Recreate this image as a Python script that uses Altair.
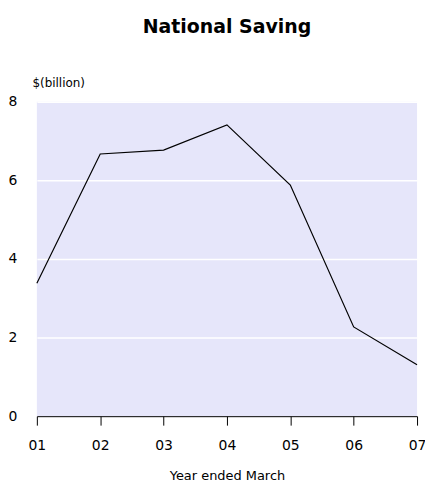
import altair as alt
import pandas as pd

years = [1, 2, 3, 4, 5, 6, 7]
saving = [3.38, 6.67, 6.77, 7.41, 5.88, 2.27, 1.31]

df = pd.DataFrame({"year": years, "saving": saving})

FONT = "DejaVu Sans"

line = alt.Chart(df).mark_line(color="black", strokeWidth=1.2).encode(
    x=alt.X(
        "year:Q",
        scale=alt.Scale(domain=[1, 7], nice=False, zero=False),
        axis=alt.Axis(
            values=years,
            labelExpr="'0' + datum.value",
            labelFlush=False,
            title="Year ended March",
            titleFont=FONT,
            titleFontSize=13,
            titleFontWeight="normal",
            titleColor="black",
            titlePadding=18,
            labelFont=FONT,
            labelFontSize=14,
            labelColor="black",
            labelPadding=13,
            tickSize=9,
            tickColor="black",
            domainColor="black",
            grid=False,
        ),
    ),
    y=alt.Y(
        "saving:Q",
        scale=alt.Scale(domain=[0, 8], nice=False),
        axis=alt.Axis(
            values=[0, 2, 4, 6, 8],
            title="$(billion)",
            titleAngle=0,
            titleX=-5,
            titleY=-19,
            titleAlign="left",
            titleBaseline="middle",
            titleFont=FONT,
            titleFontSize=12,
            titleFontWeight="normal",
            titleColor="black",
            labelFont=FONT,
            labelFontSize=14,
            labelColor="black",
            labelAlign="left",
            labelPadding=29,
            labelBaseline="middle",
            ticks=False,
            domain=False,
            grid=True,
            gridColor="white",
            gridWidth=1.5,
        ),
    ),
)

chart = line.properties(
    width=382,
    height=316,
    title=alt.TitleParams(
        "National Saving",
        font=FONT,
        fontSize=19,
        fontWeight="bold",
        color="black",
        anchor="middle",
        offset=40,
    ),
    autosize=alt.AutoSizeParams(type="none"),
    padding={"left": 29, "top": 93, "right": 8, "bottom": 66},
).configure_view(
    fill="#E6E6FA", stroke=None
)

chart.save("out.html", embed_options={"renderer": "svg", "actions": False})
